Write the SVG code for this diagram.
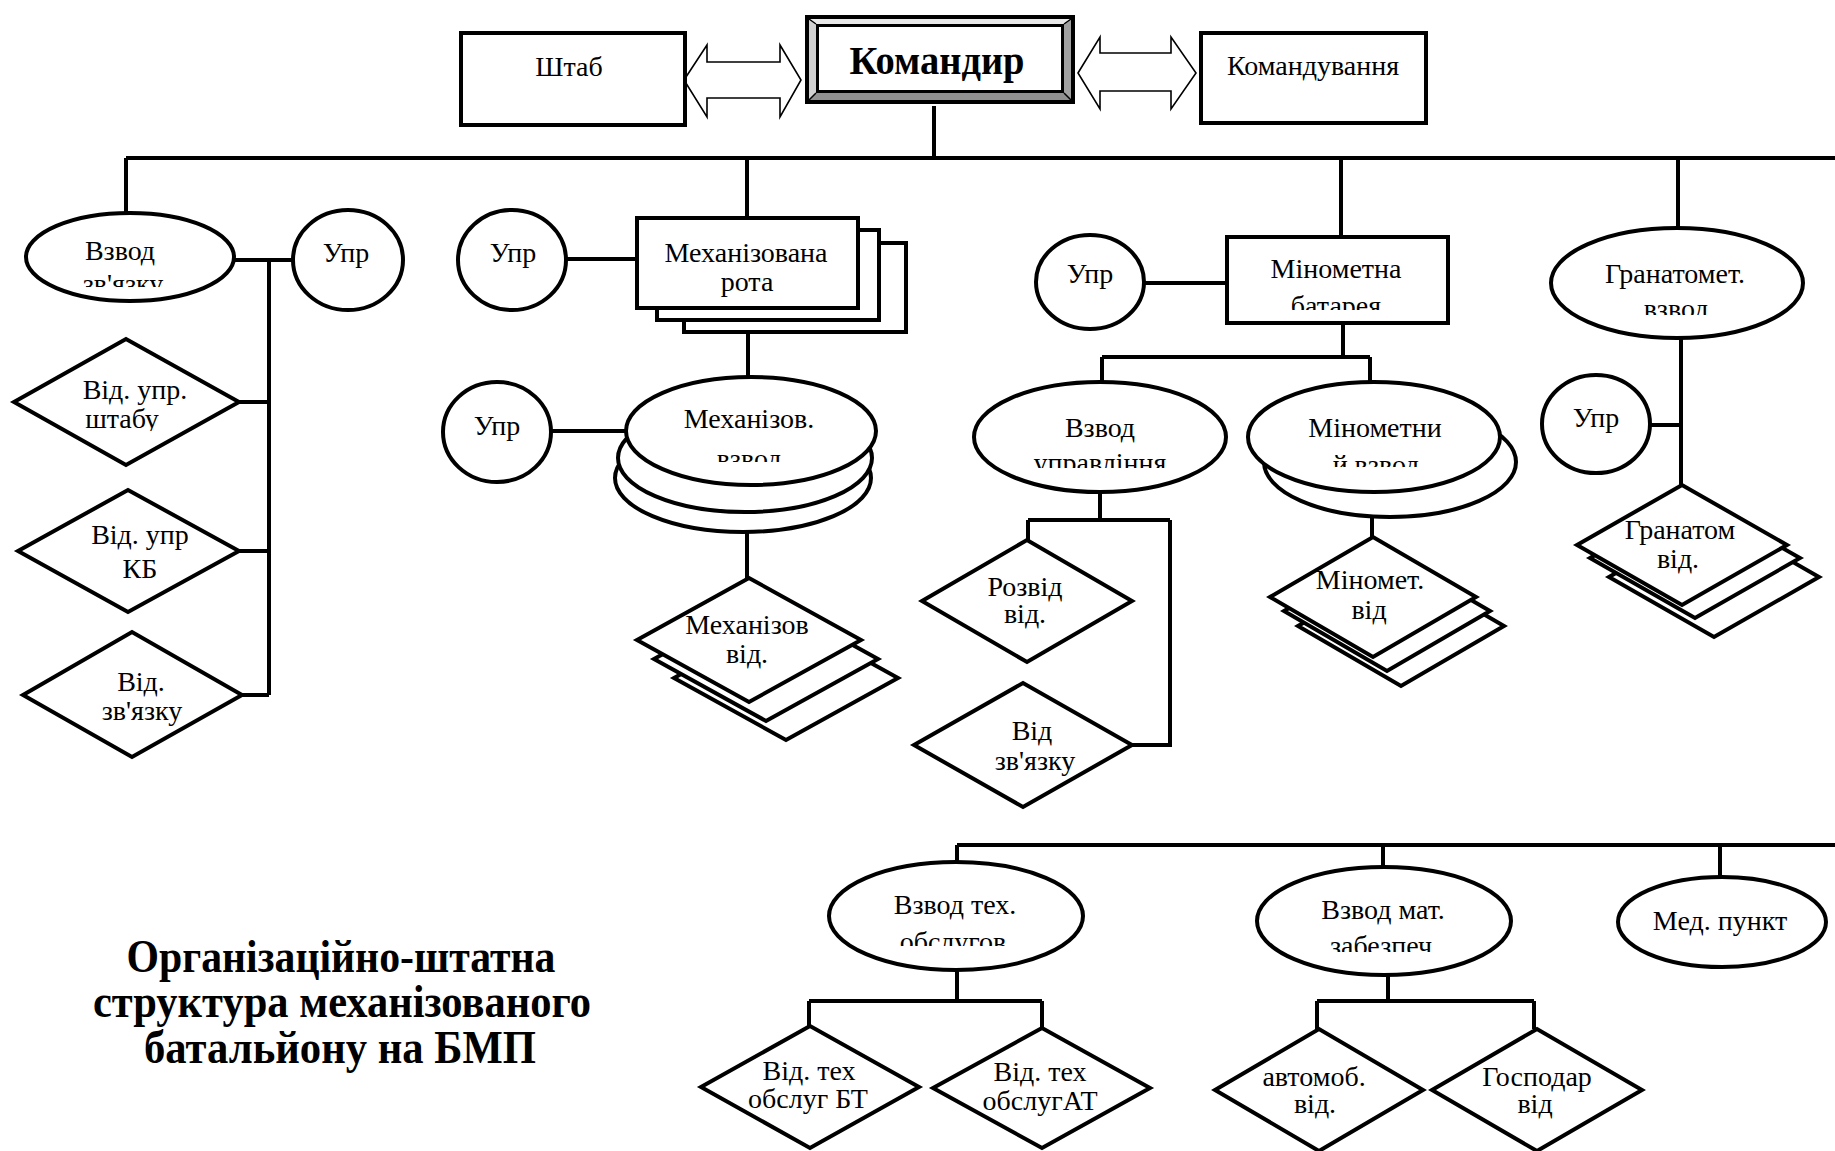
<svg xmlns="http://www.w3.org/2000/svg" width="1835" height="1151" viewBox="0 0 1835 1151">
<style>
.s{fill:#fff;stroke:#000;stroke-width:4}
.c{fill:none;stroke:#000;stroke-width:4}
.a{fill:#fff;stroke:#000;stroke-width:1.6;stroke-linejoin:miter}
.t{font-family:"Liberation Serif","Times New Roman",serif;font-size:28px;fill:#000;text-anchor:middle}
.b{font-family:"Liberation Serif","Times New Roman",serif;font-weight:bold;fill:#000;text-anchor:middle}
</style>
<defs>
<clipPath id="k1"><rect x="0" y="0" width="1835" height="287"/></clipPath>
<clipPath id="k2"><rect x="0" y="0" width="1835" height="431"/></clipPath>
<clipPath id="k3"><rect x="0" y="0" width="1835" height="462"/></clipPath>
<clipPath id="k4"><rect x="0" y="0" width="1835" height="468"/></clipPath>
<clipPath id="k5"><rect x="0" y="0" width="1835" height="467"/></clipPath>
<clipPath id="k6"><rect x="0" y="0" width="1835" height="310"/></clipPath>
<clipPath id="k7"><rect x="0" y="0" width="1835" height="315"/></clipPath>
<clipPath id="k8"><rect x="0" y="0" width="1835" height="946"/></clipPath>
<clipPath id="k9"><rect x="0" y="0" width="1835" height="952"/></clipPath>
</defs>
<rect x="0" y="0" width="1835" height="1151" fill="#fff"/>

<g id="connectors">
<path class="c" d="M934,106V158M126,158H1835M126,158V213M747,158V218M1341,158V237M1678,158V228"/>
<path class="c" d="M234,260H293M269,260V695M239,402H269M239,551H269M242,695H269"/>
<path class="c" d="M566,259H637M748,308V377M551,431H626M747,532V578"/>
<path class="c" d="M1144,283H1227M1343,323V357M1102,357H1370M1102,357V382M1370,357V382"/>
<path class="c" d="M1100,492V520M1028,520H1170M1028,520V540M1170,520V745H1132"/>
<path class="c" d="M1372,492V537M1681,338V485M1650,425H1681"/>
<path class="c" d="M957,845H1835M957,845V862M1383,845V867M1720,845V877"/>
<path class="c" d="M957,970V1001M809,1001H1042M809,1001V1026M1042,1001V1028"/>
<path class="c" d="M1388,975V1001M1317,1001H1534M1317,1001V1029M1534,1001V1029"/>
<path class="a" d="M684,80L707,45V62H780V45L801,80L780,117V98H707V117Z"/>
<path class="a" d="M1078,73L1100,37V53H1171V37L1196,73L1171,109V91H1100V109Z"/>
</g>

<g id="shtab">
<rect class="s" x="461" y="33" width="224" height="92"/>
<text class="t" x="569" y="76">Штаб</text>
</g>

<g id="komandyr">
<rect x="805" y="15" width="270" height="89" fill="#000"/>
<polygon points="809,19 1071,19 1064,24 816,24" fill="#e8e8e8"/>
<polygon points="809,19 816,24 816,93 809,100" fill="#d0d0d0"/>
<polygon points="1071,19 1071,100 1064,93 1064,24" fill="#a0a0a0"/>
<polygon points="809,100 816,93 1064,93 1071,100" fill="#909090"/>
<path d="M809,19L816,24M1071,19L1064,24M809,100L816,93M1071,100L1064,93" stroke="#000" stroke-width="1.5"/>
<rect x="817.5" y="25.5" width="245" height="66" fill="#fff" stroke="#000" stroke-width="3"/>
<text class="b" x="937" y="74" font-size="40" textLength="175" lengthAdjust="spacingAndGlyphs">Командир</text>
</g>

<g id="komanduvannia">
<rect class="s" x="1201" y="33" width="225" height="90"/>
<text class="t" x="1313" y="75">Командування</text>
</g>

<g id="vzvod-zviazku">
<ellipse class="s" cx="130" cy="257" rx="104" ry="44"/>
<text class="t" x="120" y="260">Взвод</text>
<text class="t" x="123" y="293" clip-path="url(#k1)">зв'язку</text>
</g>

<g id="upr-1">
<ellipse class="s" cx="348" cy="260" rx="55" ry="50"/>
<text class="t" x="346" y="262">Упр</text>
</g>

<g id="vid-upr-shtabu">
<polygon class="s" points="14,402 126,339 239,402 126,465"/>
<text class="t" x="135" y="399">Від. упр.</text>
<text class="t" x="122" y="428" clip-path="url(#k2)">штабу</text>
</g>

<g id="vid-upr-kb">
<polygon class="s" points="18,551 128,490 239,551 128,612"/>
<text class="t" x="140" y="544">Від. упр</text>
<text class="t" x="140" y="578">КБ</text>
</g>

<g id="vid-zviazku-1">
<polygon class="s" points="23,695 132,632 242,695 132,757"/>
<text class="t" x="141" y="691">Від.</text>
<text class="t" x="142" y="720">зв'язку</text>
</g>

<g id="upr-2">
<ellipse class="s" cx="512" cy="260" rx="54" ry="50"/>
<text class="t" x="513" y="262">Упр</text>
</g>

<g id="mekh-rota">
<rect class="s" x="684" y="243" width="222" height="89"/>
<rect class="s" x="657" y="230" width="222" height="90"/>
<rect class="s" x="637" y="218" width="221" height="90"/>
<text class="t" x="746" y="262">Механізована</text>
<text class="t" x="747" y="291">рота</text>
</g>

<g id="upr-3">
<ellipse class="s" cx="497" cy="432" rx="54" ry="50"/>
<text class="t" x="497" y="435">Упр</text>
</g>

<g id="mekh-vzvod">
<ellipse class="s" cx="743" cy="478" rx="128" ry="54"/>
<ellipse class="s" cx="745" cy="458" rx="127" ry="54"/>
<ellipse class="s" cx="751" cy="431" rx="125" ry="54"/>
<text class="t" x="749" y="428">Механізов.</text>
<text class="t" x="749" y="468" clip-path="url(#k3)">взвод</text>
</g>

<g id="mekh-vid">
<polygon class="s" points="674,678 786,616 898,678 786,740"/>
<polygon class="s" points="654,659 766,597 878,659 766,721"/>
<polygon class="s" points="637,640 749,578 861,640 749,702"/>
<text class="t" x="747" y="634">Механізов</text>
<text class="t" x="747" y="663">від.</text>
</g>

<g id="upr-4">
<ellipse class="s" cx="1090" cy="282" rx="54" ry="47"/>
<text class="t" x="1090" y="283">Упр</text>
</g>

<g id="minometna-bat">
<rect class="s" x="1227" y="237" width="221" height="86"/>
<text class="t" x="1336" y="278">Мінометна</text>
<text class="t" x="1336" y="315" clip-path="url(#k6)">батарея</text>
</g>

<g id="vzvod-upr">
<ellipse class="s" cx="1100" cy="437" rx="126" ry="55"/>
<text class="t" x="1100" y="437">Взвод</text>
<text class="t" x="1100" y="472" clip-path="url(#k4)">управління</text>
</g>

<g id="rozvid-vid">
<polygon class="s" points="922,601 1027,540 1132,601 1027,662"/>
<text class="t" x="1025" y="596">Розвід</text>
<text class="t" x="1025" y="623">від.</text>
</g>

<g id="vid-zviazku-2">
<polygon class="s" points="914,745 1023,683 1132,745 1023,807"/>
<text class="t" x="1032" y="740">Від</text>
<text class="t" x="1035" y="770">зв'язку</text>
</g>

<g id="minometnyi-vzvod">
<ellipse class="s" cx="1390" cy="462" rx="126" ry="55"/>
<ellipse class="s" cx="1374" cy="437" rx="126" ry="55"/>
<text class="t" x="1375" y="437">Мінометни</text>
<text class="t" x="1376" y="474" clip-path="url(#k5)">й взвод</text>
</g>

<g id="minomet-vid">
<polygon class="s" points="1298,626 1401,566 1504,626 1401,686"/>
<polygon class="s" points="1284,611 1387,551 1490,611 1387,671"/>
<polygon class="s" points="1270,597 1373,537 1476,597 1373,657"/>
<text class="t" x="1370" y="589">Міномет.</text>
<text class="t" x="1369" y="619">від</text>
</g>

<g id="granatomet-vzvod">
<ellipse class="s" cx="1677" cy="283" rx="126" ry="55"/>
<text class="t" x="1675" y="283">Гранатомет.</text>
<text class="t" x="1676" y="318" clip-path="url(#k7)">взвод</text>
</g>

<g id="upr-5">
<ellipse class="s" cx="1596" cy="424" rx="54" ry="49"/>
<text class="t" x="1596" y="427">Упр</text>
</g>

<g id="granatom-vid">
<polygon class="s" points="1609,577 1714,517 1819,577 1714,637"/>
<polygon class="s" points="1590,558 1695,498 1800,558 1695,618"/>
<polygon class="s" points="1577,545 1682,485 1787,545 1682,605"/>
<text class="t" x="1680" y="539">Гранатом</text>
<text class="t" x="1678" y="568">від.</text>
</g>

<g id="vzvod-tekh">
<ellipse class="s" cx="956" cy="916" rx="127" ry="54"/>
<text class="t" x="955" y="914">Взвод тех.</text>
<text class="t" x="953" y="951" clip-path="url(#k8)">обслугов</text>
</g>

<g id="vid-tekh-bt">
<polygon class="s" points="701,1087 810,1026 919,1087 810,1148"/>
<text class="t" x="809" y="1080">Від. тех</text>
<text class="t" x="808" y="1108">обслуг БТ</text>
</g>

<g id="vid-tekh-at">
<polygon class="s" points="933,1088 1042,1028 1150,1088 1042,1148"/>
<text class="t" x="1040" y="1081">Від. тех</text>
<text class="t" x="1040" y="1110">обслугАТ</text>
</g>

<g id="vzvod-mat">
<ellipse class="s" cx="1384" cy="921" rx="127" ry="54"/>
<text class="t" x="1383" y="919">Взвод мат.</text>
<text class="t" x="1381" y="955" clip-path="url(#k9)">забезпеч</text>
</g>

<g id="avtomob-vid">
<polygon class="s" points="1215,1090 1319,1029 1423,1090 1319,1151"/>
<text class="t" x="1314" y="1086">автомоб.</text>
<text class="t" x="1315" y="1113">від.</text>
</g>

<g id="gospodar-vid">
<polygon class="s" points="1432,1090 1537,1029 1642,1090 1537,1151"/>
<text class="t" x="1537" y="1086">Господар</text>
<text class="t" x="1535" y="1113">від</text>
</g>

<g id="med-punkt">
<ellipse class="s" cx="1722" cy="922" rx="104" ry="45"/>
<text class="t" x="1720" y="930">Мед. пункт</text>
</g>

<g id="title">
<text class="b" x="341" y="972" font-size="46" textLength="429" lengthAdjust="spacingAndGlyphs">Організаційно-штатна</text>
<text class="b" x="342" y="1017" font-size="46" textLength="498" lengthAdjust="spacingAndGlyphs">структура механізованого</text>
<text class="b" x="340" y="1063" font-size="46" textLength="392" lengthAdjust="spacingAndGlyphs">батальйону на БМП</text>
</g>
</svg>
